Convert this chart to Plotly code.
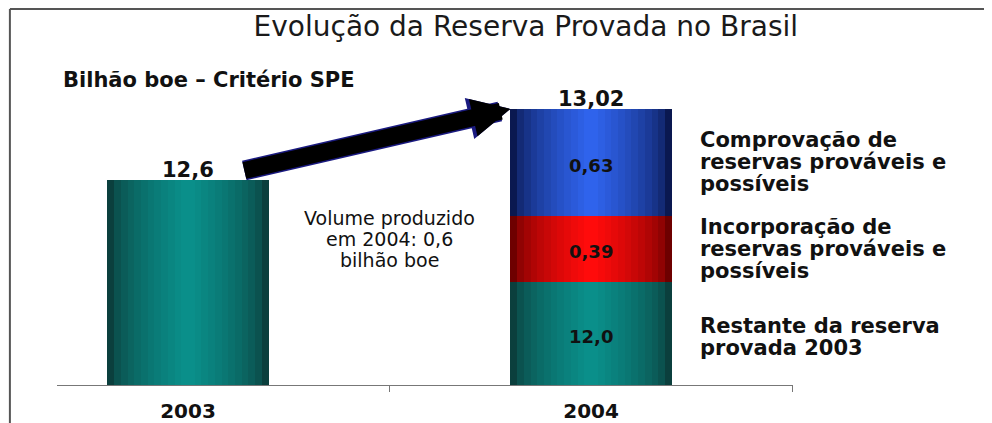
import plotly.graph_objects as go

# data (bilhao boe, criterio SPE)
years = ["2003", "2004"]
reserva = [12.6, 12.0]          # 2003 total / restante da reserva 2003 em 2004
incorporacao = [None, 0.39]     # incorporacao de reservas provaveis e possiveis
comprovacao = [None, 0.63]      # comprovacao de reservas provaveis e possiveis
producao_2004 = 0.6

y_min = 11.39       # the original chart cuts the value axis
y_max = 13.073
bar_w = 0.4
n_layers = 12       # stacked layers to fake the cylinder shading

edge_center = {
    "teal": ("#0b3f3d", "#0a8f8a"),
    "red": ("#6e0000", "#ff0b0b"),
    "blue": ("#0a1850", "#2f63ec"),
}


def fmt(v):
    s = f"{v:.2f}"
    if s.endswith("0"):
        s = s[:-1]
    return s.replace(".", ",")


def mix(c1, c2, t):
    a = [int(c1[i:i + 2], 16) for i in (1, 3, 5)]
    b = [int(c2[i:i + 2], 16) for i in (1, 3, 5)]
    return "rgb(%d,%d,%d)" % tuple(round(a[j] + (b[j] - a[j]) * t) for j in range(3))


def segment(x, length, base, colors):
    traces = []
    for k in range(n_layers):
        t = (k / (n_layers - 1)) ** 0.6
        traces.append(go.Bar(
            x=x, y=length, base=base,
            width=[bar_w * (1 - k / n_layers)] * len(x),
            marker=dict(color=mix(colors[0], colors[1], t), line=dict(width=0)),
            hoverinfo="skip", showlegend=False,
        ))
    return traces


x_2004 = [y for y, v in zip(years, incorporacao) if v is not None]
inc = [v for v in incorporacao if v is not None]
com = [v for v in comprovacao if v is not None]
base_inc = [r for r, v in zip(reserva, incorporacao) if v is not None]
base_com = [b + v for b, v in zip(base_inc, inc)]
totals = [reserva[0], base_com[0] + com[0]]

data = []
data += segment(years, reserva, [0] * len(years), edge_center["teal"])
data += segment(x_2004, inc, base_inc, edge_center["red"])
data += segment(x_2004, com, base_com, edge_center["blue"])

fig = go.Figure(data=data)

bold = dict(family="DejaVu Sans", size=21, color="#111", weight="bold")

# values inside the 2004 segments
seg_y = [(max(y_min, 0) + reserva[1]) / 2, base_inc[0] + inc[0] / 2, base_com[0] + com[0] / 2]
seg_v = [reserva[1], inc[0], com[0]]
for yy, v in zip(seg_y, seg_v):
    fig.add_annotation(
        x=1, y=yy, text=fmt(v), showarrow=False, yanchor="middle", yshift=-3,
        font=dict(family="DejaVu Sans", size=18, color="#111", weight="bold"),
    )

# totals on top of the bars
for i, tot in enumerate(totals):
    fig.add_annotation(
        x=i, y=tot, text=fmt(tot), showarrow=False, yanchor="bottom", yshift=-4,
        font=bold,
    )


def add_lines(lines, x, y, font, gap, xanchor="left", xref="x", yref="y"):
    n = len(lines)
    for i, line in enumerate(lines):
        fig.add_annotation(
            text=line, x=x, y=y, xref=xref, yref=yref, showarrow=False,
            xanchor=xanchor, yanchor="middle", font=font,
            yshift=(n - 1) / 2 * gap - i * gap,
        )


add_lines(["Comprovação de", "reservas prováveis e", "possíveis"],
          1.265, base_com[0] + com[0] / 2, bold, 22)
add_lines(["Incorporação de", "reservas prováveis e", "possíveis"],
          1.265, base_inc[0] + inc[0] / 2, bold, 22)
add_lines(["Restante da reserva", "provada 2003"],
          1.265, (y_min + reserva[1]) / 2 - 0.02, bold, 22)
add_lines(["Volume produzido", f"em 2004: {fmt(producao_2004)}", "bilhão boe"],
          0.5, 12.25, dict(family="DejaVu Sans", size=19, color="#111"), 21,
          xanchor="center")

fig.add_annotation(
    text="Bilhão boe – Critério SPE", xref="paper", yref="paper", x=0.005, y=1.07,
    xanchor="left", yanchor="middle", showarrow=False, font=bold,
)

# arrow from 2003 top to 2004 top
tail = (0.136, totals[0] + 0.055)
tip = (1 - bar_w / 2, totals[1])
for color, w, s in [("#1a1a80", 20, 0.42), ("black", 17, 0.45)]:
    fig.add_annotation(
        x=tip[0], y=tip[1], ax=tail[0], ay=tail[1], xref="x", yref="y",
        axref="x", ayref="y", text="", showarrow=True, arrowhead=2,
        arrowsize=s, arrowwidth=w, arrowcolor=color, standoff=0,
    )

# slide frame (top and left edges)
fig.add_shape(type="line", xref="paper", yref="paper", x0=-0.064, x1=1.3,
              y0=1.319, y1=1.319, line=dict(color="#555", width=2))
fig.add_shape(type="line", xref="paper", yref="paper", x0=-0.064, x1=-0.064,
              y0=1.319, y1=-0.2, line=dict(color="#555", width=2))

# the page adds an 8px body margin, so the margins are shifted to compensate
fig.update_layout(
    width=992, height=423, autosize=False,
    margin=dict(l=49, r=207, t=92, b=46),
    paper_bgcolor="white", plot_bgcolor="white",
    barmode="overlay", bargap=0,
    title=dict(text="Evolução da Reserva Provada no Brasil", xref="container",
               x=0.522, xanchor="center", yref="container", y=0.958, yanchor="middle",
               font=dict(family="DejaVu Sans", size=28, color="#1a1a1a")),
    xaxis=dict(type="category", categoryorder="array", categoryarray=years,
               range=[-0.325, 1.501], tickson="boundaries", ticks="outside",
               ticklen=6, tickcolor="#777", showline=True, linecolor="#777",
               linewidth=1, showgrid=False, zeroline=False, ticklabelstandoff=8,
               tickfont=dict(family="DejaVu Sans", size=20, color="#111", weight="bold"),
               automargin=False),
    yaxis=dict(range=[y_min, y_max], visible=False, showgrid=False, automargin=False),
)

fig.write_html("out.html")
